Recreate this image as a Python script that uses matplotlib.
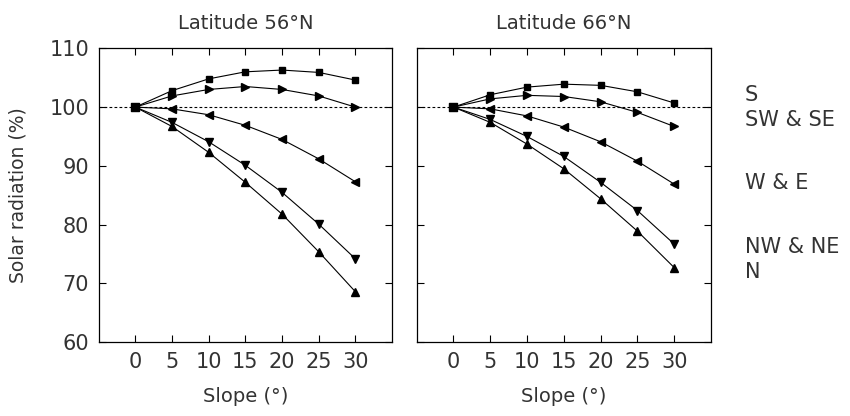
import matplotlib
matplotlib.use("Agg")
import matplotlib.pyplot as plt

slope = [0, 5, 10, 15, 20, 25, 30]
aspects = ["S", "SW & SE", "W & E", "NW & NE", "N"]
markers = ["s", ">", "<", "v", "^"]

lat56_S = [100, 102.8, 104.8, 106.0, 106.3, 105.9, 104.6]
lat56_SW_SE = [100, 101.9, 103.0, 103.5, 103.0, 101.9, 100.0]
lat56_W_E = [100, 99.7, 98.7, 96.9, 94.5, 91.2, 87.3]
lat56_NW_NE = [100, 97.4, 94.1, 90.1, 85.5, 80.1, 74.2]
lat56_N = [100, 96.7, 92.3, 87.2, 81.8, 75.4, 68.6]

lat66_S = [100, 102.1, 103.4, 103.9, 103.7, 102.6, 100.7]
lat66_SW_SE = [100, 101.4, 102.0, 101.8, 100.9, 99.1, 96.7]
lat66_W_E = [100, 99.7, 98.5, 96.6, 94.1, 90.8, 86.9]
lat66_NW_NE = [100, 97.9, 95.0, 91.6, 87.2, 82.4, 76.7]
lat66_N = [100, 97.4, 93.7, 89.5, 84.4, 78.9, 72.7]

panels = [
    ("Latitude 56°N", [lat56_S, lat56_SW_SE, lat56_W_E, lat56_NW_NE, lat56_N]),
    ("Latitude 66°N", [lat66_S, lat66_SW_SE, lat66_W_E, lat66_NW_NE, lat66_N]),
]
label_y = [102.1, 97.8, 87.1, 76.2, 72.0]

plt.rcParams['font.family'] = ['DejaVu Sans']
txt_color = '#333333'

fig = plt.figure(figsize=(8.5, 4.16), dpi=100)
boxes = [[0.1161, 0.1772, 0.3451, 0.7067], [0.4902, 0.1772, 0.3463, 0.7067]]

for i, ((title, series), box) in enumerate(zip(panels, boxes)):
    ax = fig.add_axes(box)
    ax.axhline(100, color='black', lw=0.8, ls=(0, (2.5, 2)), zorder=1)
    for vals, m in zip(series, markers):
        ms = 5 if m == 's' else 6
        ax.plot(slope, vals, color='black', lw=0.8, marker=m, ms=ms,
                mfc='black', mec='black', zorder=3)
    ax.set_xlim(-5, 35)
    ax.set_ylim(60, 110)
    ax.set_xticks(slope)
    ax.set_yticks([60, 70, 80, 90, 100, 110])
    ax.tick_params(direction='in', top=True, right=True, length=5, width=0.8,
                   labelsize=15, pad=7, labelcolor=txt_color)
    for s in ax.spines.values():
        s.set_linewidth(0.9)
    ax.set_title(title, fontsize=14, pad=14, color=txt_color)
    xc = box[0] + box[2] / 2
    fig.text(xc, 1 - 397 / 416, "Slope (°)", fontsize=14, ha='center',
             va='center', color=txt_color)
    if i == 0:
        fig.text(0.021, box[1] + box[3] / 2, "Solar radiation (%)", fontsize=13.5,
                 rotation=90, ha='center', va='center', color=txt_color)
    else:
        ax.set_yticklabels([])
        for name, yv in zip(aspects, label_y):
            ax.text(1.115, yv, name, transform=ax.get_yaxis_transform(),
                    fontsize=15, ha='left', va='center', color=txt_color)

fig.savefig("out.png", dpi=100)
